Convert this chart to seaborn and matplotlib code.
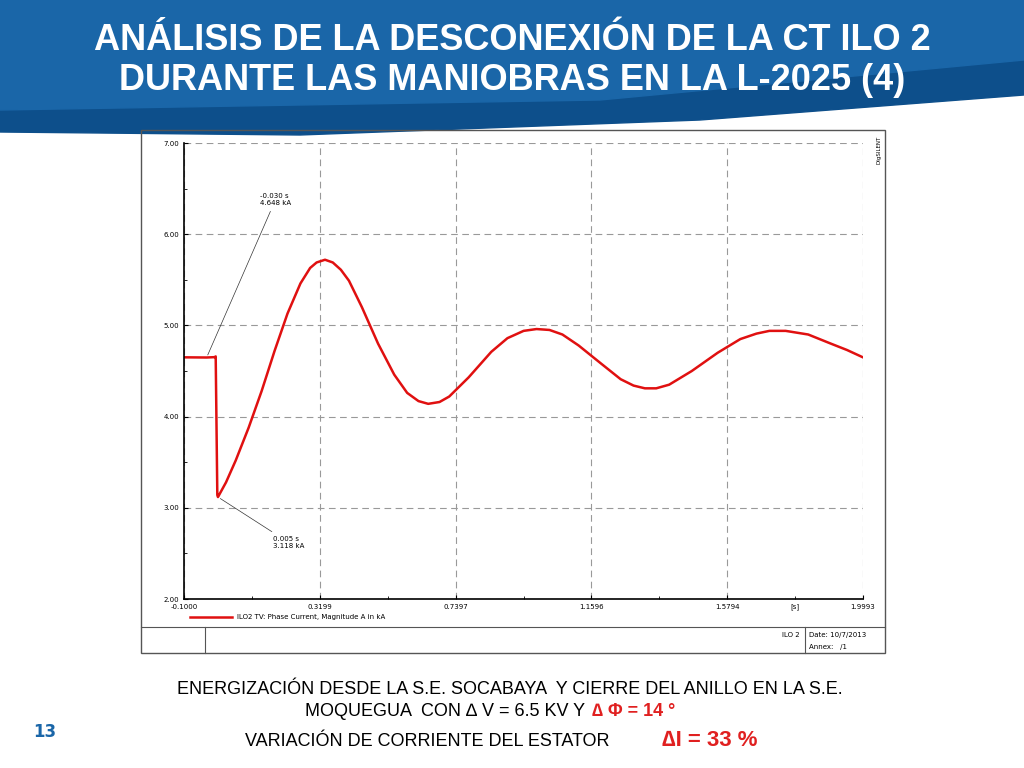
#!/usr/bin/env python3
import numpy as np
import matplotlib
matplotlib.use("Agg")
import matplotlib.pyplot as plt
import seaborn as sns
from matplotlib.patches import Rectangle, Polygon

# curve (time in s, current in kA)
t_s = [-0.100, -0.030, -0.005, -0.002, 0.003, 0.005, 0.03, 0.06, 0.10, 0.14, 0.18,
       0.22, 0.26, 0.29, 0.31, 0.336, 0.36, 0.385, 0.41, 0.45, 0.50, 0.55, 0.59,
       0.625, 0.655, 0.69, 0.72, 0.78, 0.85, 0.90, 0.95, 0.99, 1.03, 1.07, 1.12,
       1.19, 1.25, 1.29, 1.325, 1.36, 1.40, 1.47, 1.55, 1.62, 1.67, 1.71, 1.76,
       1.83, 1.90, 1.95, 1.999]
i_ka = [4.650, 4.648, 4.652, 4.66, 3.14, 3.118, 3.28, 3.52, 3.88, 4.28, 4.72,
        5.13, 5.46, 5.63, 5.69, 5.72, 5.69, 5.61, 5.49, 5.20, 4.80, 4.46, 4.26,
        4.17, 4.14, 4.16, 4.22, 4.43, 4.71, 4.86, 4.94, 4.96, 4.95, 4.90, 4.78,
        4.58, 4.41, 4.34, 4.31, 4.31, 4.35, 4.50, 4.70, 4.85, 4.91, 4.94, 4.94,
        4.90, 4.80, 4.73, 4.65]
x_ticks = [-0.1000, 0.3199, 0.7397, 1.1596, 1.5794, 1.9993]
y_ticks = [2.00, 3.00, 4.00, 5.00, 6.00, 7.00]

W, H = 1024, 768
fig = plt.figure(figsize=(W / 100, H / 100), dpi=100)
fig.patch.set_facecolor("white")

def fx(px): return px / W
def fy(py): return 1 - py / H

# header band
bg = fig.add_axes([0, 0, 1, 1], zorder=0)
bg.set_xlim(0, W); bg.set_ylim(H, 0); bg.axis("off")
bg.add_patch(Polygon([[0, 0], [W, 0], [W, 95], [700, 120], [300, 135], [0, 132]],
                     closed=True, color="#0d4f8b"))
bg.add_patch(Polygon([[0, 0], [W, 0], [W, 60], [600, 100], [0, 110]],
                     closed=True, color="#1a66a8"))
bg.text(512, 40, "ANÁLISIS DE LA DESCONEXIÓN DE LA CT ILO 2", color="white",
        fontsize=26, fontweight="bold", ha="center", va="center", family="Liberation Sans")
bg.text(512, 80, "DURANTE LAS MANIOBRAS EN LA L-2025 (4)", color="white",
        fontsize=26, fontweight="bold", ha="center", va="center", family="Liberation Sans")

# frame of the plot sheet
bg.add_patch(Rectangle((141, 130), 744, 523, fill=False, ec="#555555", lw=1))
bg.plot([141, 885], [627, 627], color="#555555", lw=0.8)
bg.plot([205, 205], [627, 653], color="#555555", lw=0.8)
bg.plot([805, 805], [627, 653], color="#555555", lw=0.8)
bg.text(800, 635, "ILO 2", fontsize=5, ha="right", va="center")
bg.text(809, 635, "Date: 10/7/2013", fontsize=5, ha="left", va="center")
bg.text(809, 647, "Annex:   /1", fontsize=5, ha="left", va="center")
bg.text(879, 150, "DIgSILENT", fontsize=4, rotation=90, ha="center", va="center")

# caption
bg.text(510, 690, "ENERGIZACIÓN DESDE LA S.E. SOCABAYA  Y CIERRE DEL ANILLO EN LA S.E.",
        fontsize=13, ha="center", va="center", family="Liberation Sans")
bg.text(305, 712, "MOQUEGUA  CON \u2206 V = 6.5 KV Y", fontsize=13, ha="left",
        va="center", family="Liberation Sans")
bg.text(592, 712, "\u2206 \u03a6 = 14 °", fontsize=13, ha="left", va="center",
        color="#e02020", fontweight="bold", family="Liberation Sans")
bg.text(245, 742, "VARIACIÓN DE CORRIENTE DEL ESTATOR", fontsize=13, ha="left",
        va="center", family="Liberation Sans")
bg.text(662, 740, "\u2206I = 33 %", fontsize=16, ha="left", va="center",
        color="#e02020", fontweight="bold", family="Liberation Sans")
bg.text(45, 732, "13", fontsize=12, ha="center", va="center", color="#1a66a8",
        fontweight="bold")

# plot
ax = fig.add_axes([fx(184), fy(599), fx(863 - 184), (599 - 143) / H], zorder=1)
ax.set_facecolor("none")
sns.lineplot(x=t_s, y=i_ka, ax=ax, color="#e01010", lw=1.8, sort=False,
             label="ILO2 TV: Phase Current, Magnitude A in kA")
ax.set_xlim(x_ticks[0], x_ticks[-1])
ax.set_ylim(2, 7)
ax.set_xticks(x_ticks)
ax.set_xticklabels([f"{v:.4f}" for v in x_ticks])
ax.set_yticks(y_ticks)
ax.set_yticklabels([f"{v:.2f}" for v in y_ticks])
ax.set_xticks([(a + b) / 2 for a, b in zip(x_ticks[:-1], x_ticks[1:])], minor=True)
ax.set_yticks([2.5, 3.5, 4.5, 5.5, 6.5], minor=True)
ax.tick_params(labelsize=5, length=3, direction="in")
ax.tick_params(which="minor", length=2, direction="in")
ax.grid(True, which="major", ls=(0, (6, 4)), color="#999999", lw=0.8)
for s in ["top", "right"]:
    ax.spines[s].set_visible(False)
ax.spines["left"].set_linewidth(1.2)
ax.spines["bottom"].set_linewidth(1.2)
ax.text(1.79, 1.95, "[s]", fontsize=5, ha="center", va="top")
leg = ax.legend(loc="upper left", bbox_to_anchor=(0.0, -0.02), frameon=False,
                fontsize=5, handlelength=6)

# annotations
ax.annotate("-0.030 s\n4.648 kA", xy=(-0.03, 4.648), xytext=(0.135, 6.38),
            fontsize=5, va="center", arrowprops=dict(arrowstyle="-", lw=0.5, color="#333333"))
ax.annotate("0.005 s\n3.118 kA", xy=(0.005, 3.118), xytext=(0.175, 2.62),
            fontsize=5, va="center", arrowprops=dict(arrowstyle="-", lw=0.5, color="#333333"))

fig.savefig("out.png", dpi=100)
